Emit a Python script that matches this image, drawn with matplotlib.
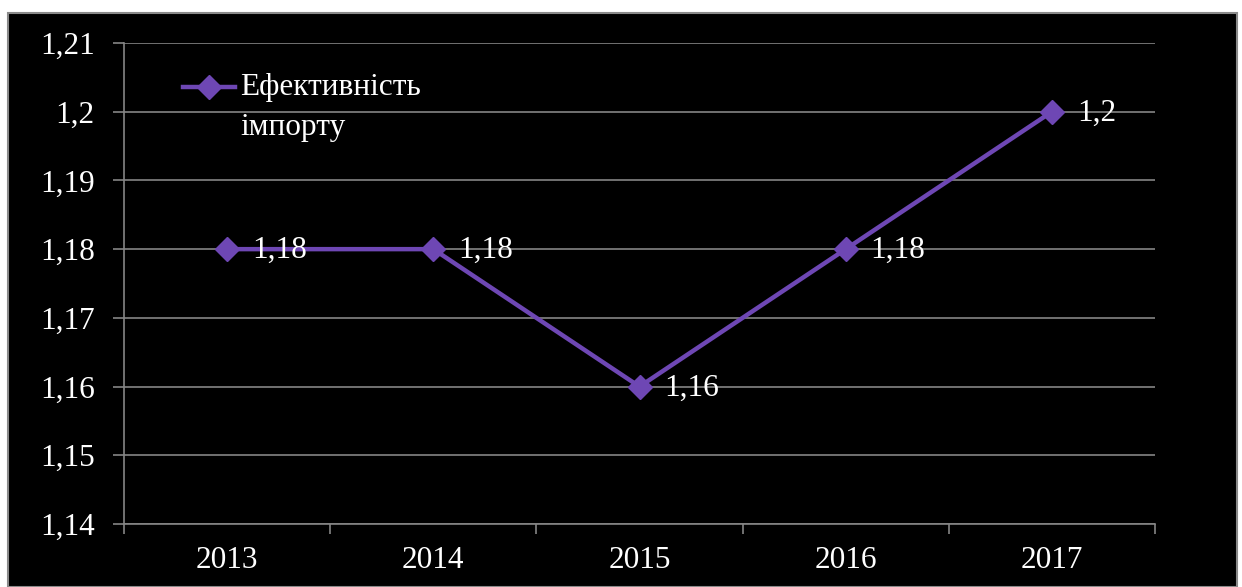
import matplotlib
matplotlib.use("Agg")
import matplotlib.pyplot as plt
from matplotlib.patches import Rectangle

years = ["2013", "2014", "2015", "2016", "2017"]
values = [1.18, 1.18, 1.16, 1.18, 1.20]
value_labels = ["1,18", "1,18", "1,16", "1,18", "1,2"]
y_ticks = [1.14, 1.15, 1.16, 1.17, 1.18, 1.19, 1.20, 1.21]
y_tick_labels = ["1,14", "1,15", "1,16", "1,17", "1,18", "1,19", "1,2", "1,21"]
series_name = ["Ефективність", "імпорту"]

plt.rcParams["font.family"] = ["Liberation Serif", "DejaVu Serif"]

W, H = 1242, 587
fig = plt.figure(figsize=(W / 100, H / 100), dpi=100, facecolor="white")

# black chart area with grey border
fig.add_artist(Rectangle((8 / W, 0), (1237 - 8) / W, 1 - 13 / H,
                         transform=fig.transFigure, facecolor="black",
                         edgecolor="#8a8a8a", linewidth=1.5, zorder=-10))

ax = fig.add_axes([124 / W, 1 - 524 / H, (1155 - 124) / W, (524 - 43) / H])
ax.set_facecolor("black")
color = "#6E47B4"
grid_c = "#858585"
fs = 22.5
serif = ["Liberation Serif", "DejaVu Serif"]

x = list(range(len(years)))
ax.plot(x, values, color=color, linewidth=3.2, marker="D", markersize=12.5,
        zorder=3, clip_on=False)
for xi, v, lab in zip(x, values, value_labels):
    ax.annotate(lab, (xi, v), xytext=(18, -1), textcoords="offset points",
                ha="left", va="center", color="white", fontsize=fs, zorder=4,
                family=serif)

ax.set_xlim(-0.5, len(years) - 0.5)
ax.set_ylim(1.14, 1.21)
ax.set_yticks(y_ticks)
ax.set_yticklabels(y_tick_labels)
ax.yaxis.grid(True, color=grid_c, linewidth=1.2)
ax.set_axisbelow(True)

# category boundaries as major ticks, labels at minor ticks (centres)
ax.set_xticks([i - 0.5 for i in range(len(years) + 1)])
ax.set_xticklabels([])
ax.set_xticks(x, minor=True)
ax.set_xticklabels(years, minor=True)
ax.tick_params(axis="x", which="major", length=7, width=1.2, color=grid_c, direction="out")
ax.tick_params(axis="x", which="minor", length=0, pad=16, labelcolor="white", labelsize=fs)
ax.tick_params(axis="y", length=8, width=1.2, color=grid_c, pad=13,
               labelcolor="white", labelsize=fs)

for s in ["top", "right"]:
    ax.spines[s].set_visible(False)
ax.spines["left"].set_color(grid_c)
ax.spines["bottom"].set_color(grid_c)
ax.spines["left"].set_linewidth(1.2)
ax.spines["bottom"].set_linewidth(1.2)

# legend (manual, matches layout of original)
ax.plot([0.057, 0.108], [0.9085, 0.9085], transform=ax.transAxes, color=color,
        linewidth=3.2, zorder=5)
ax.plot([0.0824], [0.9085], transform=ax.transAxes, color=color, marker="D",
        markersize=12.5, zorder=6)
ax.text(0.1125, 0.9085, series_name[0], transform=ax.transAxes, color="white",
        fontsize=fs, ha="left", va="center", family=serif)
ax.text(0.1125, 0.825, series_name[1], transform=ax.transAxes, color="white",
        fontsize=fs, ha="left", va="center", family=serif)

fig.savefig("out.png", dpi=100, facecolor="white")
